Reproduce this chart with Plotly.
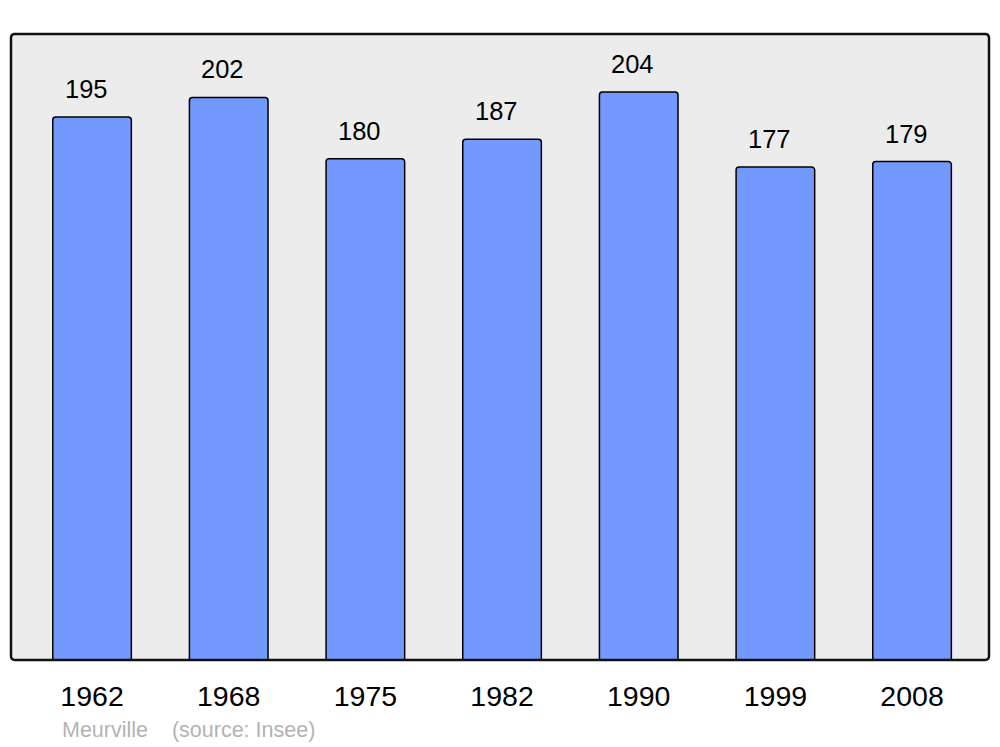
import plotly.graph_objects as go

years = ["1962", "1968", "1975", "1982", "1990", "1999", "2008"]
population = [195, 202, 180, 187, 204, 177, 179]

BAR_COLOR = "#7399ff"
FONT = "Liberation Sans, Arial, sans-serif"

positions = list(range(len(years)))

fig = go.Figure(
    go.Bar(
        x=positions,
        y=population,
        width=0.575,
        marker=dict(
            color=BAR_COLOR,
            line=dict(color="#000000", width=1.5),
            cornerradius=3,
        ),
        hoverinfo="skip",
    )
)

for xpos, val in zip(positions, population):
    fig.add_annotation(
        x=xpos,
        y=val,
        text=str(val),
        showarrow=False,
        xanchor="center",
        yanchor="middle",
        xshift=-6,
        yshift=28,
        font=dict(family=FONT, size=25.5, color="#000000"),
    )

fig.add_annotation(
    xref="paper",
    yref="paper",
    x=0.0505,
    y=-0.112,
    xanchor="left",
    yanchor="middle",
    text="Meurville\u00a0\u00a0\u00a0\u00a0(source: Insee)",
    showarrow=False,
    font=dict(family=FONT, size=21.5, color="#b3b3b3"),
)

# plot frame with slightly rounded corners
r = 0.004
ry = r * 978 / 626
frame = (
    f"M {r},0 L {1 - r},0 Q 1,0 1,{ry} L 1,{1 - ry} Q 1,1 {1 - r},1 "
    f"L {r},1 Q 0,1 0,{1 - ry} L 0,{ry} Q 0,0 {r},0 Z"
)
fig.add_shape(
    type="path",
    xref="paper",
    yref="paper",
    path=frame,
    line=dict(color="#111111", width=2.5),
    layer="above",
)

fig.update_layout(
    width=1000,
    height=747,
    margin=dict(l=11, r=11, t=34, b=87),
    paper_bgcolor="#ffffff",
    plot_bgcolor="#ececec",
    showlegend=False,
    font=dict(family=FONT, color="#000000"),
    xaxis=dict(
        range=[-0.593, 6.563],
        tickmode="array",
        tickvals=positions,
        ticktext=years,
        tickfont=dict(family=FONT, size=28.5, color="#000000"),
        ticks="outside",
        ticklen=11,
        tickcolor="rgba(0,0,0,0)",
        showgrid=False,
        zeroline=False,
        showline=False,
        fixedrange=True,
    ),
    yaxis=dict(
        range=[0, 224.8],
        showticklabels=False,
        showgrid=False,
        zeroline=False,
        showline=False,
        ticks="",
        fixedrange=True,
    ),
)

fig.write_html(
    "out.html",
    config={"displayModeBar": False},
    post_script="document.body.style.margin='0';document.body.style.overflow='hidden';",
)
